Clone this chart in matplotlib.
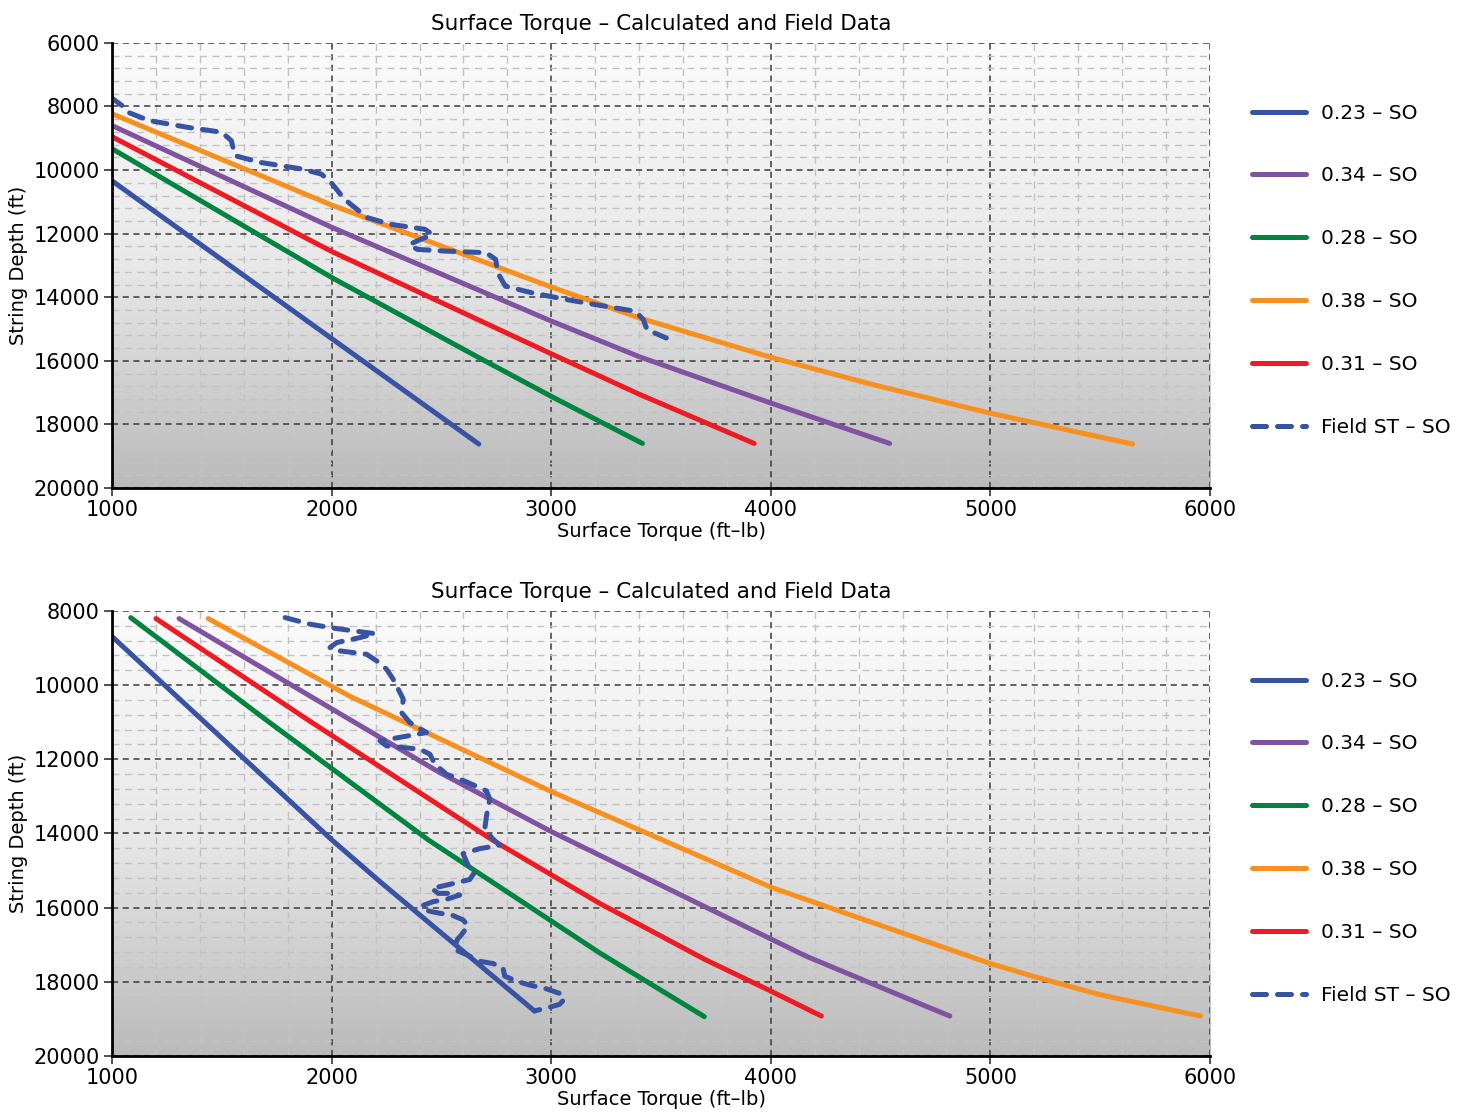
import numpy as np
import matplotlib
matplotlib.use("Agg")
import matplotlib.pyplot as plt
from matplotlib.colors import LinearSegmentedColormap
from matplotlib.ticker import MultipleLocator

# ─── DATA (torque ft-lb, depth ft) ────────────────────────────
LABELS = ["0.23 – SO", "0.34 – SO", "0.28 – SO", "0.38 – SO", "0.31 – SO", "Field ST – SO"]
COLORS = ["#3953a4", "#8053a1", "#00843f", "#f7901e", "#ed1c24", "#3953a4"]

# top chart
top_t_023 = [1000, 2000, 2670]
top_d_023 = [10340, 15300, 18620]
top_t_034 = [1000, 2000, 3000, 3400, 4000, 4541]
top_d_034 = [8600, 11800, 14750, 15870, 17330, 18600]
top_t_028 = [1000, 2000, 2670, 3000, 3415]
top_d_028 = [9330, 13380, 15900, 17120, 18600]
top_t_038 = [1000, 2000, 3000, 3400, 4000, 4465, 5000, 5647]
top_d_038 = [8230, 11100, 13680, 14650, 15890, 16750, 17650, 18620]
top_t_031 = [1000, 2000, 3000, 3400, 3924]
top_d_031 = [8950, 12560, 15780, 17050, 18600]
top_t_field = [993, 1045, 1072, 1168, 1342, 1499, 1543, 1560, 1674, 1866, 1953, 1997,
               2058, 2162, 2267, 2424, 2459, 2354, 2389, 2511, 2703, 2747, 2756, 2791,
               2913, 3070, 3244, 3384, 3419, 3436, 3524]
top_d_field = [7705, 7968, 8180, 8442, 8653, 8810, 9074, 9547, 9758, 9968, 10126, 10389,
               10916, 11495, 11705, 11863, 12021, 12337, 12495, 12547, 12600, 12811, 13232, 13653,
               13863, 14074, 14284, 14442, 14705, 15021, 15284]

# bottom chart
bot_t_023 = [1000, 2000, 2220, 2924]
bot_d_023 = [8690, 14170, 15300, 18790]
bot_t_034 = [1305, 1674, 2492, 3000, 4157, 4682, 4815]
bot_d_034 = [8206, 9500, 12358, 13950, 17300, 18600, 18924]
bot_t_028 = [1085, 1696, 2439, 3220, 3697]
bot_d_028 = [8180, 10915, 14170, 17220, 18940]
bot_t_038 = [1438, 2083, 3000, 4000, 5000, 5194, 5497, 5956]
bot_d_038 = [8206, 10300, 12870, 15450, 17510, 17850, 18346, 18924]
bot_t_031 = [1200, 1886, 2735, 3220, 3700, 4000, 4230]
bot_d_031 = [8206, 10915, 14187, 15884, 17399, 18251, 18924]
bot_t_field = [1788, 1902, 2023, 2159, 2197, 2129, 2023, 1992, 2038, 2159, 2205, 2250,
               2280, 2311, 2326, 2318, 2356, 2432, 2220, 2250, 2402, 2447, 2470, 2523,
               2614, 2705, 2720, 2705, 2697, 2735, 2765, 2674, 2598, 2621, 2652, 2629,
               2568, 2523, 2455, 2485, 2545, 2583, 2523, 2462, 2409, 2432, 2492, 2545,
               2598, 2621, 2591, 2571, 2561, 2614, 2674, 2735, 2780, 2788, 2841, 2902,
               2977, 3038, 3061, 3038, 2985, 2924]
bot_d_field = [8180, 8359, 8476, 8584, 8611, 8719, 8854, 8988, 9078, 9168, 9348, 9572,
               9842, 10201, 10381, 10740, 11010, 11280, 11504, 11639, 11729, 11863, 12133, 12403,
               12609, 12852, 13077, 13526, 13885, 14155, 14317, 14410, 14545, 14857, 15036, 15241,
               15330, 15393, 15482, 15616, 15616, 15661, 15777, 15839, 15955, 16080, 16152, 16196,
               16330, 16491, 16732, 16866, 17134, 17268, 17447, 17509, 17625, 17848, 17982, 18090,
               18188, 18313, 18456, 18608, 18697, 18786]
# ──────────────────────────────────────────────────────────────

plt.rcParams['font.family'] = ['DejaVu Sans']

bg_cmap = LinearSegmentedColormap.from_list("bg", ["#fbfbfb", "#e8e8e8", "#bababa"])


def draw_panel(ax, series, field, ymin):
    # gradient background, light at top
    grad = np.linspace(0, 1, 256).reshape(-1, 1)
    ax.imshow(grad, extent=[0, 1, 0, 1], transform=ax.transAxes, aspect='auto',
              cmap=bg_cmap, zorder=0, origin='upper')

    for (t, d), color, label in zip(series, COLORS[:5], LABELS[:5]):
        ax.plot(t, d, color=color, lw=3.6, solid_capstyle='round',
                solid_joinstyle='round', label=label, zorder=3)
    ft, fd = field
    ax.plot(ft, fd, color=COLORS[5], lw=3.6, dashes=(2.8, 2.2),
            dash_capstyle='round', dash_joinstyle='round', label=LABELS[5], zorder=4)

    ax.set_xlim(1000, 6000)
    ax.set_ylim(20000, ymin)
    ax.xaxis.set_major_locator(MultipleLocator(1000))
    ax.xaxis.set_minor_locator(MultipleLocator(200))
    ax.yaxis.set_major_locator(MultipleLocator(2000))
    ax.yaxis.set_minor_locator(MultipleLocator(400))

    ax.set_axisbelow(True)
    ax.grid(which='minor', color='#c2c2c2', linestyle=(0, (5, 4)), lw=1.0)
    ax.grid(which='major', color='#3a3a3a', linestyle=(0, (4, 3)), lw=1.1)

    for s in ['top', 'right']:
        ax.spines[s].set_visible(False)
    for s in ['left', 'bottom']:
        ax.spines[s].set_linewidth(2.0)
        ax.spines[s].set_color('black')
        ax.spines[s].set_zorder(5)

    ax.tick_params(which='major', length=6, width=1.2, color='#333333',
                   labelsize=15, pad=3)
    ax.tick_params(which='minor', length=0)

    ax.set_title("Surface Torque – Calculated and Field Data", fontsize=15.5, pad=9)
    ax.set_xlabel("Surface Torque (ft–lb)", fontsize=14, labelpad=1)
    ax.set_ylabel("String Depth (ft)", fontsize=14, labelpad=4)

    ax.legend(loc='center left', bbox_to_anchor=(1.038, 0.489), frameon=False,
              fontsize=14.5, handlelength=2.7, handletextpad=0.75,
              labelspacing=2.18, borderaxespad=0, borderpad=0)


fig = plt.figure(figsize=(14.65, 11.12), dpi=100)
ax1 = fig.add_axes([0.0765, 0.5612, 0.7495, 0.4002])
ax2 = fig.add_axes([0.0765, 0.0504, 0.7495, 0.4002])

draw_panel(ax1,
           [(top_t_023, top_d_023), (top_t_034, top_d_034), (top_t_028, top_d_028),
            (top_t_038, top_d_038), (top_t_031, top_d_031)],
           (top_t_field, top_d_field), 6000)
draw_panel(ax2,
           [(bot_t_023, bot_d_023), (bot_t_034, bot_d_034), (bot_t_028, bot_d_028),
            (bot_t_038, bot_d_038), (bot_t_031, bot_d_031)],
           (bot_t_field, bot_d_field), 8000)

fig.savefig("out.png", dpi=100)
